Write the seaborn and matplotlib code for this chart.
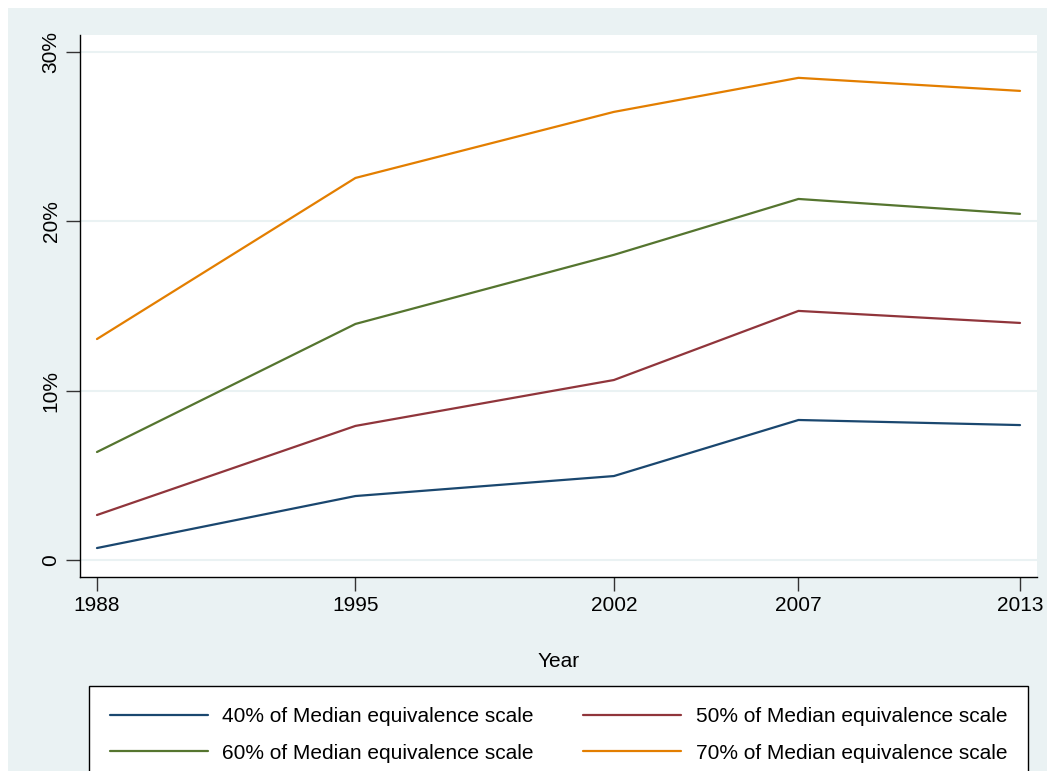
import numpy as np
import pandas as pd
import seaborn as sns
import matplotlib.pyplot as plt
from matplotlib.patches import Rectangle

years = [1988, 1995, 2002, 2007, 2013]
share_40 = [0.71, 3.78, 4.96, 8.27, 7.97]
share_50 = [2.66, 7.92, 10.63, 14.71, 14.00]
share_60 = [6.38, 13.94, 18.02, 21.32, 20.44]
share_70 = [13.05, 22.56, 26.46, 28.47, 27.70]
series_names = ["40% of Median equivalence scale", "50% of Median equivalence scale",
                "60% of Median equivalence scale", "70% of Median equivalence scale"]
y_ticks = [0, 10, 20, 30]
y_tick_labels = ["0", "10%", "20%", "30%"]

rows = []
for name, vals in zip(series_names, [share_40, share_50, share_60, share_70]):
    for yr, v in zip(years, vals):
        rows.append({"Year": yr, "share": v, "series": name})
df = pd.DataFrame(rows)

sns.set_style("white")
plt.rcParams["font.family"] = ["Liberation Sans", "DejaVu Sans"]
plt.rcParams["text.color"] = "black"
plt.rcParams["xtick.color"] = "black"
plt.rcParams["ytick.color"] = "black"
plt.rcParams["axes.labelcolor"] = "black"

bg = "#eaf2f3"
fig = plt.figure(figsize=(10.53, 7.71), dpi=100)
fig.patches.append(Rectangle((8 / 1053, 0), 1039 / 1053, 763 / 771,
                             transform=fig.transFigure, facecolor=bg,
                             edgecolor="none", zorder=-10))
ax = fig.add_axes([80 / 1053, 194 / 771, 957 / 1053, 542 / 771])

palette = ["#1a476f", "#90353b", "#55752f", "#e37e00"]
sns.lineplot(data=df, x="Year", y="share", hue="series", palette=palette,
             linewidth=1.6, ax=ax, legend=False)

ax.set_xlim(1987.54, 2013.46)
ax.set_ylim(-1.0, 31.0)
ax.set_xticks(years)
ax.set_xticklabels([str(y) for y in years])
ax.set_yticks(y_ticks)
ax.set_yticklabels(y_tick_labels, rotation=90, va="center")
ax.grid(axis="y", color=bg, linewidth=1.5)
ax.set_axisbelow(True)
for side in ["top", "right"]:
    ax.spines[side].set_visible(False)
for side in ["left", "bottom"]:
    ax.spines[side].set_color("black")
    ax.spines[side].set_linewidth(1.0)
ax.tick_params(axis="both", length=10, width=1, color="#333333",
               labelsize=15, labelcolor="black", direction="out", pad=4,
               left=True, bottom=True)
ax.set_xlabel("Year", fontsize=15, labelpad=26)
ax.set_ylabel("")

# legend fills column-wise, so order handles to read row by row
handles = [plt.Line2D([], [], color=c, linewidth=1.6) for c in palette]
order = [0, 2, 1, 3]
leg = fig.legend([handles[i] for i in order], [series_names[i] for i in order],
                 loc="upper left", ncol=2, mode="expand",
                 bbox_to_anchor=(89 / 1053, 0.0, 939 / 1053, 85 / 771),
                 fontsize=15, frameon=True, fancybox=False, framealpha=1,
                 handlelength=4.7, handletextpad=0.7, labelspacing=0.85,
                 borderpad=1.0, borderaxespad=0)
leg.get_frame().set_edgecolor("black")
leg.get_frame().set_linewidth(1.0)
leg.get_frame().set_facecolor("white")

fig.savefig("out.png", dpi=100, facecolor="white")
